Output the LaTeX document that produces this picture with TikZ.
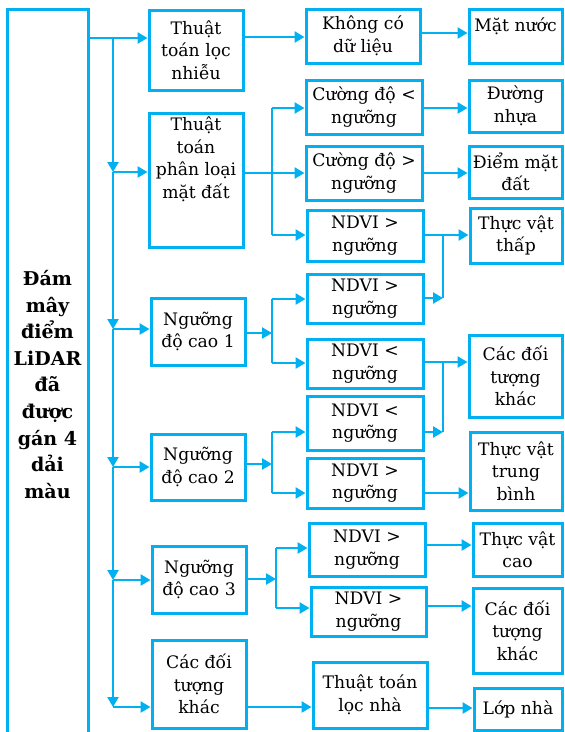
\documentclass[tikz,border=0pt]{standalone}
\usepackage{fontspec}
\setmainfont{DejaVu Serif}
\usetikzlibrary{arrows.meta}
\definecolor{lb}{RGB}{0,176,240}
\newcommand\bxx[6]{\node[box, minimum width={(#4-#2)*1pt}, minimum height={(#5-#3)*1pt}] (#1) at ({(#2+#4)/2},{(#3+#5)/2}) {#6};}
\begin{document}
\begin{tikzpicture}[x=1pt,y=-1pt,
  box/.style={draw=lb, line width=3pt, align=center, inner sep=0pt, text=black, font=\fontsize{17.2}{22.5}\selectfont},
  txt/.style={align=center, inner sep=0pt, font=\fontsize{17.2}{22.5}\selectfont},
  conn/.style={draw=lb, line width=2.9pt},
  arr/.style={conn, -{Triangle[length=10pt,width=11pt]}}]
\useasboundingbox (0,0) rectangle (565,732);
% big left box
\node[box, minimum width=81pt, minimum height=751pt, font=\bfseries\fontsize{19}{26.6}\selectfont] (L) at (47.5,384.5)
  {Đám\\mây\\điểm\\LiDAR\\đã\\được\\gán 4\\dải\\màu};
% column A
\bxx{A1}{149}{10}{243}{90}{Thuật\\toán lọc\\nhiễu}
\bxx{A2}{149}{113}{243}{247}{}
\node[txt, anchor=north] (A2t) at (196,117) {Thuật\\toán\\phân loại\\mặt đất};
\bxx{A3}{151}{298}{245}{365}{Ngưỡng\\độ cao 1}
\bxx{A4}{151}{434}{245}{500}{Ngưỡng\\độ cao 2}
\bxx{A5}{152}{546}{246}{613}{Ngưỡng\\độ cao 3}
\bxx{A6}{152}{640}{246}{728}{Các đối\\tượng\\khác}
% column B
\bxx{B1}{306}{9}{420}{63}{Không có\\dữ liệu}
\bxx{B2}{306}{80}{422}{134}{Cường độ <\\ngưỡng}
\bxx{B3}{306}{146}{422}{200}{Cường độ >\\ngưỡng}
\bxx{B4}{307}{210}{423}{261}{NDVI >\\ngưỡng}
\bxx{B5}{307}{274}{423}{323}{NDVI >\\ngưỡng}
\bxx{B6}{307}{339}{423}{388}{NDVI <\\ngưỡng}
\bxx{B7}{307}{396}{423}{450}{NDVI <\\ngưỡng}
\bxx{B8}{307}{458}{423}{508}{NDVI >\\ngưỡng}
\bxx{B9}{309}{523}{425}{576}{NDVI >\\ngưỡng}
\bxx{B10}{311}{587}{426}{636}{NDVI >\\ngưỡng}
\bxx{B11}{313}{662}{427}{728}{Thuật toán\\lọc nhà}
% column C
\bxx{C1}{469}{9}{562}{63}{Mặt nước\\\phantom{M}}
\bxx{C2}{469}{80}{562}{132}{Đường\\nhựa}
\bxx{C3}{469}{146}{562}{198}{Điểm mặt\\đất}
\bxx{C4}{470}{208}{562}{263}{Thực vật\\thấp}
\bxx{C5}{469}{335}{562}{417}{Các đối\\tượng\\khác}
\bxx{C6}{470}{432}{562}{510}{Thực vật\\trung\\bình}
\bxx{C7}{473}{523}{562}{576}{Thực vật\\cao}
\bxx{C8}{473}{588}{562}{673}{Các đối\\tượng\\khác}
\bxx{C9}{474}{688}{562}{730}{Lớp nhà}
% trunk
\coordinate (t0) at (113,38);
\coordinate (t1) at (113,172);
\coordinate (t2) at (113,329);
\coordinate (t3) at (113,467);
\coordinate (t4) at (113,580);
\coordinate (t5) at (113,707);
\draw[conn] (L.east|-t0) -- (t0);
\draw[arr] (t0) -- (A1.west|-t0);
\draw[arr] (t0) -- (t1);
\draw[arr] (t1) -- (A2.west|-t1);
\draw[arr] (t1) -- (t2);
\draw[arr] (t2) -- (A3.west|-t2);
\draw[arr] (t2) -- (t3);
\draw[arr] (t3) -- (A4.west|-t3);
\draw[arr] (t3) -- (t4);
\draw[arr] (t4) -- (A5.west|-t4);
\draw[arr] (t4) -- (t5);
\draw[arr] (t5) -- (A6.west|-t5);
% row 1
\coordinate (r1) at (0,37);
\draw[arr] (A1.east|-r1) -- (B1.west|-r1);
\coordinate (r1b) at (0,33);
\draw[arr] (B1.east|-r1b) -- (C1.west|-r1b);
% A2 branch
\coordinate (j1) at (272,173);
\coordinate (j1a) at (272,108);
\coordinate (j1b) at (272,235);
\draw[arr] (A2.east|-j1) -- (B3.west|-j1);
\draw[conn] (j1a) -- (j1b);
\draw[arr] (j1a) -- (B2.west|-j1a);
\draw[arr] (j1b) -- (B4.west|-j1b);
\draw[arr] (B2.east|-j1a) -- (C2.west|-j1a);
\draw[arr] (B3.east|-j1) -- (C3.west|-j1);
% merge to Thuc vat thap
\coordinate (k1) at (443,235);
\coordinate (k2) at (443,298);
\draw[arr] (B4.east|-k1) -- (C4.west|-k1);
\draw[conn] (k1) -- (k2);
\draw[arr] (B5.east|-k2) -- (k2);
% A3 branch
\coordinate (j2) at (272,333);
\coordinate (j2a) at (272,299);
\coordinate (j2b) at (272,363);
\draw[arr] (A3.east|-j2) -- (j2);
\draw[conn] (j2a) -- (j2b);
\draw[arr] (j2a) -- (B5.west|-j2a);
\draw[arr] (j2b) -- (B6.west|-j2b);
% merge to Cac doi tuong khac
\coordinate (k3) at (443,362);
\coordinate (k4) at (443,432);
\draw[arr] (B6.east|-k3) -- (C5.west|-k3);
\draw[conn] (k3) -- (k4);
\draw[arr] (B7.east|-k4) -- (k4);
% A4 branch
\coordinate (j3) at (272,464);
\coordinate (j3a) at (272,432);
\coordinate (j3b) at (272,493);
\draw[arr] (A4.east|-j3) -- (j3);
\draw[conn] (j3a) -- (j3b);
\draw[arr] (j3a) -- (B7.west|-j3a);
\draw[arr] (j3b) -- (B8.west|-j3b);
\draw[arr] (B8.east|-j3b) -- (C6.west|-j3b);
% A5 branch
\coordinate (j4) at (276,579);
\coordinate (j4a) at (276,548);
\coordinate (j4b) at (276,608);
\draw[arr] (A5.east|-j4) -- (j4);
\draw[conn] (j4a) -- (j4b);
\draw[arr] (j4a) -- (B9.west|-j4a);
\draw[arr] (j4b) -- (B10.west|-j4b);
\coordinate (r9) at (0,545);
\draw[arr] (B9.east|-r9) -- (C7.west|-r9);
\coordinate (r10) at (0,606);
\draw[arr] (B10.east|-r10) -- (C8.west|-r10);
% bottom row
\draw[arr] (A6.east|-t5) -- (B11.west|-t5);
\coordinate (r11) at (0,708);
\draw[arr] (B11.east|-r11) -- (C9.west|-r11);
\end{tikzpicture}
\end{document}
